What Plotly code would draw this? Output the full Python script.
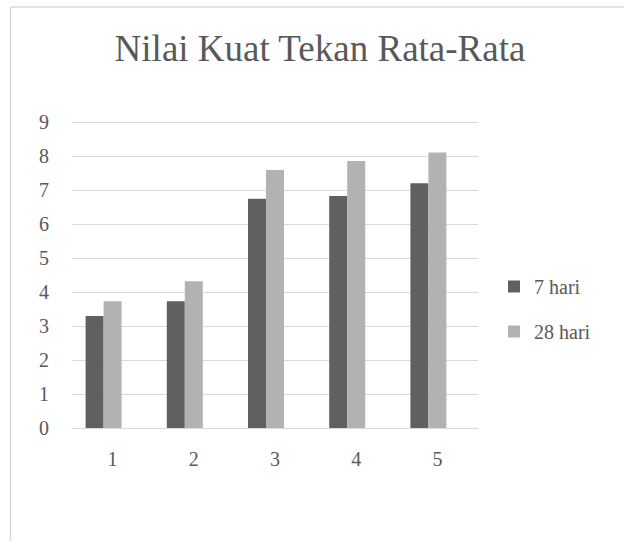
import plotly.graph_objects as go

# Average compressive strength per mix, at 7 and 28 days
categories = ["1", "2", "3", "4", "5"]
values_7_hari = [3.30, 3.73, 6.75, 6.83, 7.21]
values_28_hari = [3.73, 4.32, 7.60, 7.86, 8.11]
y_ticks = [0, 1, 2, 3, 4, 5, 6, 7, 8, 9]

W, H = 624, 541
L, R, T, B = 72, 146, 119, 113
plot_w = W - L - R
plot_h = H - T - B

FONT = "Liberation Serif, Times New Roman, serif"
TEXT = "#595959"
GRID = "#d9d9d9"
DARK = "#606060"
LIGHT = "#b2b2b2"

bar_w = 0.2217  # category slots hold three bar widths plus a 150% gap

fig = go.Figure()
fig.add_trace(go.Bar(
    x=categories, y=values_7_hari, name="7 hari",
    marker=dict(color=DARK, line=dict(width=0)),
    width=bar_w, offset=-1.5 * bar_w, legendgroup="a",
))
fig.add_trace(go.Bar(
    x=categories, y=values_28_hari, name="28 hari",
    marker=dict(color=LIGHT, line=dict(width=0)),
    width=bar_w, offset=-0.5 * bar_w, legendgroup="b",
))

# light frame around the chart area
def px_to_paper_x(px):
    return (px - L) / plot_w

def px_to_paper_y(py):
    return (H - B - py) / plot_h

frame_x, frame_y = 10.5, 7.0
fig.add_shape(type="line", xref="paper", yref="paper", layer="below",
              x0=px_to_paper_x(frame_x), x1=px_to_paper_x(W + 10),
              y0=px_to_paper_y(frame_y), y1=px_to_paper_y(frame_y),
              line=dict(color=GRID, width=1.5))
fig.add_shape(type="line", xref="paper", yref="paper", layer="below",
              x0=px_to_paper_x(frame_x), x1=px_to_paper_x(frame_x),
              y0=px_to_paper_y(frame_y), y1=px_to_paper_y(H + 10),
              line=dict(color=GRID, width=1.5))

fig.update_layout(
    width=W, height=H,
    margin=dict(l=L, r=R, t=T, b=B),
    paper_bgcolor="white", plot_bgcolor="white",
    font=dict(family=FONT, color=TEXT, size=20),
    title=dict(text="Nilai Kuat Tekan Rata-Rata", font=dict(family=FONT, size=37, color=TEXT),
               x=320 / W, xanchor="center", xref="container",
               y=1 - 48 / H, yanchor="middle", yref="container"),
    barmode="overlay",
    showlegend=True,
    legend=dict(x=px_to_paper_x(494), xanchor="left", y=px_to_paper_y(309), yanchor="middle",
                font=dict(family=FONT, size=20, color=TEXT),
                traceorder="grouped", tracegroupgap=16, bgcolor="rgba(0,0,0,0)"),
    xaxis=dict(type="category", range=[-0.5, 4.5], showgrid=False, zeroline=False,
               showline=True, linecolor=GRID, linewidth=1,
               ticks="outside", ticklen=13, tickcolor="rgba(0,0,0,0)",
               tickfont=dict(family=FONT, size=20, color=TEXT), fixedrange=True),
    yaxis=dict(range=[0, 9.1], tickvals=y_ticks, ticktext=[str(v) for v in y_ticks],
               showgrid=True, gridcolor=GRID, gridwidth=1, zeroline=False, showline=False,
               ticks="outside", ticklen=18, tickcolor="rgba(0,0,0,0)",
               tickfont=dict(family=FONT, size=20, color=TEXT), fixedrange=True),
)

fig.write_html("out.html")
